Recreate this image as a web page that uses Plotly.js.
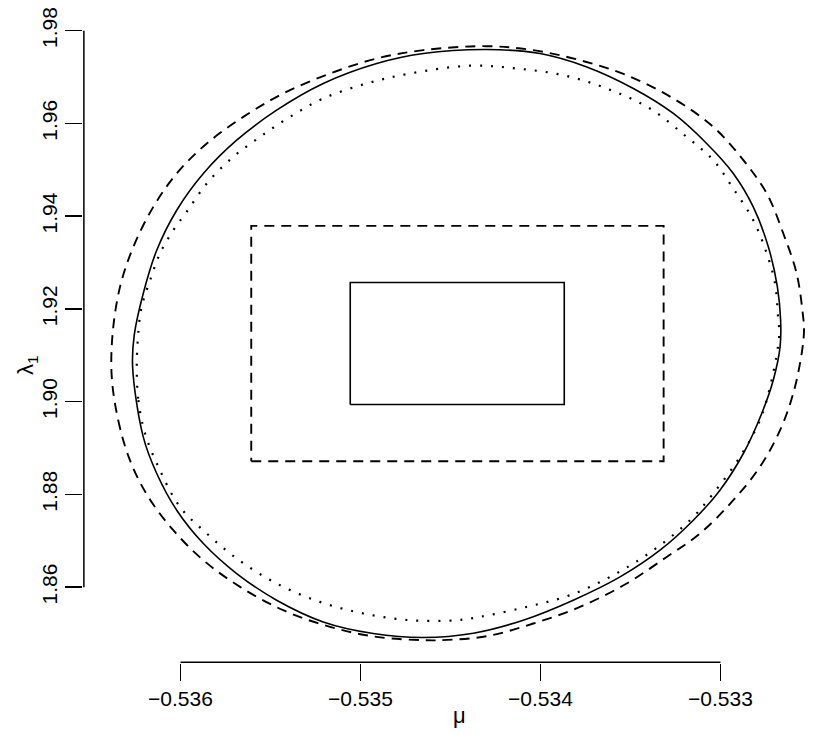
<!DOCTYPE html>
<html>
<head>
<meta charset="utf-8">
<script src="https://cdn.plot.ly/plotly-3.0.1.min.js"></script>
<style>html,body{margin:0;padding:0;background:#fff;}#chart{width:830px;height:747px;}</style>
</head>
<body>
<div id="chart"></div>
<script>
// ---- data ----
var xTicks = [-0.536, -0.535, -0.534, -0.533];
var yTicks = [1.86, 1.88, 1.90, 1.92, 1.94, 1.96, 1.98];

// solid ellipse
var solidMu = [-0.536266, -0.536207, -0.536132, -0.536021, -0.535873, -0.535688, -0.535466, -0.535207, -0.534929, -0.534651,
  -0.534373, -0.534096, -0.533818, -0.533558, -0.533336, -0.533151, -0.533003, -0.532873, -0.532771, -0.532707,
  -0.532669, -0.532666, -0.532684, -0.532734, -0.532818, -0.532929, -0.533077, -0.533262, -0.533484, -0.533743,
  -0.534003, -0.534299, -0.534651, -0.534910, -0.535207, -0.535466, -0.535688, -0.535873, -0.536021, -0.536132,
  -0.536207, -0.536257];
var solidLam = [1.90750, 1.89241, 1.88452, 1.87660, 1.86942, 1.86295, 1.85720, 1.85252, 1.85002, 1.84915,
  1.85008, 1.85288, 1.85720, 1.86222, 1.86798, 1.87445, 1.88092, 1.88883, 1.89746, 1.90464,
  1.91182, 1.91757, 1.92476, 1.93338, 1.94201, 1.94921, 1.95568, 1.96215, 1.96754, 1.97219,
  1.97508, 1.97595, 1.97508, 1.97293, 1.96862, 1.96286, 1.95639, 1.94921, 1.94129, 1.93267,
  1.92333, 1.91434];

// dashed ellipse
var dashMu = [-0.536382, -0.536346, -0.536281, -0.536179, -0.536040, -0.535873, -0.535669, -0.535429, -0.535169, -0.534910,
  -0.534651, -0.534558, -0.534299, -0.534040, -0.533781, -0.533521, -0.533299, -0.533114, -0.532929, -0.532781,
  -0.532669, -0.532596, -0.532549, -0.532536, -0.532543, -0.532577, -0.532651, -0.532743, -0.532873, -0.533040,
  -0.533262, -0.533521, -0.533781, -0.534040, -0.534299, -0.534651, -0.534910, -0.535169, -0.535429, -0.535651,
  -0.535854, -0.536021, -0.536151, -0.536262, -0.536336, -0.536377];
var dashLam = [1.90535, 1.89601, 1.88739, 1.87947, 1.87229, 1.86582, 1.86007, 1.85504, 1.85144, 1.84928,
  1.84857, 1.84857, 1.84943, 1.85217, 1.85575, 1.86080, 1.86653, 1.87158, 1.87876, 1.88594,
  1.89385, 1.90177, 1.91039, 1.91542, 1.91902, 1.92764, 1.93627, 1.94490, 1.95208, 1.95926,
  1.96538, 1.97040, 1.97364, 1.97580, 1.97666, 1.97580, 1.97401, 1.97077, 1.96646, 1.96141,
  1.95568, 1.94921, 1.94201, 1.93338, 1.92476, 1.91471];

// dotted ellipse
var dotMu = [-0.536243, -0.536234, -0.536197, -0.536123, -0.536003, -0.535854, -0.535688, -0.535466, -0.535225, -0.534984,
  -0.534725, -0.534466, -0.534336, -0.534077, -0.533836, -0.533596, -0.533373, -0.533169, -0.533040, -0.532892,
  -0.532781, -0.532716, -0.532673, -0.532679, -0.532697, -0.532743, -0.532818, -0.532929, -0.533040, -0.533188,
  -0.533392, -0.533632, -0.533873, -0.534132, -0.534392, -0.534725, -0.534966, -0.535207, -0.535392, -0.535558,
  -0.535707, -0.535854, -0.535966, -0.536040, -0.536114, -0.536169, -0.536216, -0.536234];
var dotLam = [1.90750, 1.90032, 1.89314, 1.88594, 1.87732, 1.87158, 1.86619, 1.86080, 1.85683, 1.85433,
  1.85288, 1.85288, 1.85360, 1.85575, 1.85828, 1.86259, 1.86798, 1.87445, 1.88021, 1.88810,
  1.89601, 1.90464, 1.91471, 1.91757, 1.92549, 1.93196, 1.93914, 1.94597, 1.95208, 1.95710,
  1.96322, 1.96754, 1.97040, 1.97185, 1.97245, 1.97077, 1.96862, 1.96538, 1.96141, 1.95710,
  1.95279, 1.94705, 1.94093, 1.93698, 1.93196, 1.92620, 1.92044, 1.91505];

// rectangles [low, high]
var innerRectMu = [-0.535057, -0.533868];
var innerRectLam = [1.89940, 1.92570];
var outerRectMu = [-0.535607, -0.533316];
var outerRectLam = [1.88717, 1.93791];

// ---- build traces ----
function closed(a){ return a.concat([a[0]]); }
function rectX(r){ return [r[0], r[1], r[1], r[0], r[0]]; }
function rectY(r){ return [r[0], r[0], r[1], r[1], r[0]]; }

var LW = 1.6;
var traces = [
  {x: closed(solidMu), y: closed(solidLam), mode: 'lines', line: {color: '#000', width: LW, shape: 'spline', smoothing: 1}},
  {x: closed(dashMu), y: closed(dashLam), mode: 'lines', line: {color: '#000', width: LW + 0.3, shape: 'spline', smoothing: 1, dash: '10px,7px'}},
  {x: closed(dotMu), y: closed(dotLam), mode: 'lines', line: {color: '#000', width: LW + 0.6, shape: 'spline', smoothing: 1, dash: '2px,9px'}},
  {x: rectX(innerRectMu), y: rectY(innerRectLam), mode: 'lines', line: {color: '#000', width: LW}},
  {x: rectX(outerRectMu), y: rectY(outerRectLam), mode: 'lines', line: {color: '#000', width: LW + 0.3, dash: '10px,7px'}}
];

var FONT = 'Liberation Sans, Arial, Helvetica, sans-serif';
var layout = {
  width: 830, height: 747,
  margin: {l: 83, r: 10, t: 10, b: 84, pad: 0},
  paper_bgcolor: '#fff', plot_bgcolor: '#fff',
  showlegend: false,
  font: {family: FONT, size: 21, color: '#000'},
  xaxis: {
    range: [-0.53654167, -0.53244722],
    tickvals: xTicks, tickformat: '.3f',
    ticks: 'outside', ticklen: 17, tickwidth: 1.5, tickcolor: '#000',
    showgrid: false, zeroline: false, showline: false,
    tickfont: {family: FONT, size: 21, color: '#000'}
  },
  yaxis: {
    range: [1.843655, 1.984464],
    tickvals: yTicks, tickformat: '.2f',
    ticks: 'outside', ticklen: 17, tickwidth: 1.5, tickcolor: '#000',
    tickangle: -90,
    showgrid: false, zeroline: false, showline: false,
    tickfont: {family: FONT, size: 21, color: '#000'}
  },
  shapes: [
    {type: 'line', xref: 'x', yref: 'paper', x0: xTicks[0], x1: xTicks[xTicks.length - 1], y0: 0.0012, y1: 0.0012,
     line: {color: '#000', width: 1.5}},
    {type: 'line', xref: 'paper', yref: 'y', x0: 0.0012, x1: 0.0012, y0: yTicks[0], y1: yTicks[yTicks.length - 1],
     line: {color: '#000', width: 1.5}}
  ],
  annotations: [
    {text: 'μ', xref: 'paper', yref: 'paper', x: 0.5115, y: -0.081, showarrow: false,
     xanchor: 'center', yanchor: 'middle', font: {family: FONT, size: 22, color: '#000'}},
    {text: 'λ<sub>1</sub>', xref: 'paper', yref: 'paper', x: -0.076, y: 0.4564, showarrow: false, textangle: -90,
     xanchor: 'center', yanchor: 'middle', font: {family: FONT, size: 22, color: '#000'}}
  ]
};

Plotly.newPlot('chart', traces, layout, {displayModeBar: false, staticPlot: true});
</script>
</body>
</html>
